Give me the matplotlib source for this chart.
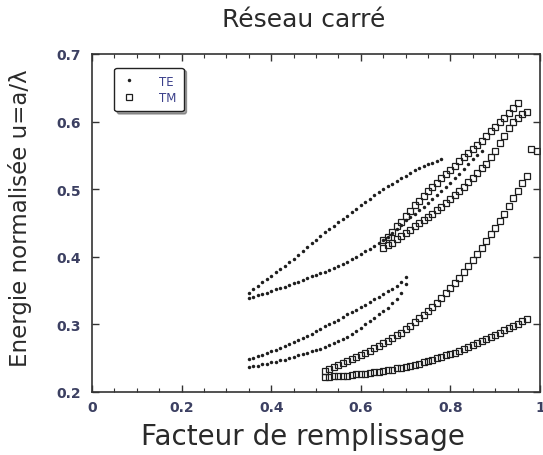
import numpy as np
import matplotlib.pyplot as plt
from matplotlib.ticker import MultipleLocator

# filling factor step used for every band (one point per 0.01)
step = 0.01

# TE bands (dots)
te1u_x0 = 0.35
te1u_y = [0.346, 0.352, 0.357, 0.362, 0.367, 0.372, 0.377, 0.382, 0.387, 0.392,
          0.397, 0.403, 0.409, 0.414, 0.420, 0.425, 0.431, 0.436, 0.441, 0.446,
          0.451, 0.456, 0.461, 0.466, 0.471, 0.476, 0.481, 0.486, 0.491, 0.496,
          0.500, 0.504, 0.508, 0.512, 0.516, 0.520, 0.524, 0.528, 0.531, 0.534,
          0.537, 0.539, 0.542, 0.544]
te1l_x0 = 0.35
te1l_y = [0.339, 0.341, 0.343, 0.345, 0.347, 0.350, 0.352, 0.354, 0.356, 0.359,
          0.361, 0.363, 0.366, 0.368, 0.371, 0.373, 0.376, 0.378, 0.381, 0.384,
          0.386, 0.390, 0.393, 0.397, 0.400, 0.404, 0.408, 0.412, 0.416, 0.420,
          0.425, 0.430, 0.435, 0.441, 0.447, 0.454, 0.459, 0.464, 0.469, 0.474,
          0.480, 0.485, 0.491, 0.497, 0.503, 0.509, 0.516, 0.523, 0.530, 0.537,
          0.544, 0.550, 0.556]
te2u_x0 = 0.35
te2u_y = [0.249, 0.251, 0.253, 0.255, 0.257, 0.260, 0.262, 0.265, 0.268, 0.271,
          0.274, 0.277, 0.280, 0.283, 0.286, 0.290, 0.293, 0.297, 0.300, 0.304,
          0.307, 0.311, 0.315, 0.318, 0.322, 0.326, 0.329, 0.333, 0.337, 0.341,
          0.345, 0.349, 0.353, 0.357, 0.362, 0.370]
te2l_x0 = 0.35
te2l_y = [0.237, 0.238, 0.239, 0.241, 0.242, 0.244, 0.245, 0.247, 0.248, 0.250,
          0.252, 0.254, 0.256, 0.258, 0.260, 0.262, 0.264, 0.267, 0.269, 0.272,
          0.275, 0.278, 0.282, 0.286, 0.290, 0.295, 0.300, 0.305, 0.310, 0.315,
          0.320, 0.325, 0.331, 0.338, 0.347, 0.360]

# TM bands (open squares)
tma_x0 = 0.65
tma_y = [0.425, 0.430, 0.437, 0.445, 0.452, 0.460, 0.468, 0.476, 0.483, 0.490,
         0.497, 0.503, 0.509, 0.516, 0.522, 0.529, 0.535, 0.541, 0.547, 0.553,
         0.559, 0.566, 0.572, 0.579, 0.586, 0.592, 0.599, 0.606, 0.613, 0.620,
         0.628]
tmb_x0 = 0.65
tmb_y = [0.413, 0.417, 0.421, 0.426, 0.431, 0.435, 0.440, 0.445, 0.450, 0.455,
         0.459, 0.464, 0.469, 0.474, 0.479, 0.485, 0.491, 0.497, 0.503, 0.510,
         0.517, 0.524, 0.531, 0.538, 0.547, 0.557, 0.568, 0.579, 0.590, 0.599,
         0.606, 0.611, 0.614]
tmc_x0 = 0.52
tmc_y = [0.231, 0.234, 0.237, 0.240, 0.243, 0.246, 0.249, 0.252, 0.255, 0.258,
         0.261, 0.265, 0.268, 0.272, 0.276, 0.280, 0.284, 0.288, 0.293, 0.298,
         0.303, 0.309, 0.314, 0.320, 0.326, 0.332, 0.339, 0.346, 0.354, 0.361,
         0.369, 0.377, 0.386, 0.395, 0.404, 0.413, 0.423, 0.433, 0.443, 0.453,
         0.464, 0.475, 0.487, 0.498, 0.509, 0.520]
tmd_x0 = 0.52
tmd_y = [0.222, 0.222, 0.223, 0.223, 0.224, 0.224, 0.225, 0.226, 0.226, 0.227,
         0.228, 0.229, 0.230, 0.231, 0.232, 0.233, 0.235, 0.236, 0.237, 0.239,
         0.240, 0.242, 0.244, 0.246, 0.248, 0.250, 0.252, 0.254, 0.256, 0.258,
         0.261, 0.263, 0.266, 0.269, 0.272, 0.275, 0.278, 0.281, 0.284, 0.287,
         0.291, 0.294, 0.298, 0.301, 0.305, 0.308]
tme_x = [0.98, 0.993]
tme_y = [0.559, 0.557]

xtick_vals = [0, 0.2, 0.4, 0.6, 0.8, 1.0]
xtick_labels = ['0', '0.2', '0.4', '0.6', '0.8', '1']
ytick_vals = [0.2, 0.3, 0.4, 0.5, 0.6, 0.7]
ytick_labels = ['0.2', '0.3', '0.4', '0.5', '0.6', '0.7']


def fgrid(x0, ys):
    return x0 + step * np.arange(len(ys))


fig = plt.figure(figsize=(5.43, 4.56), dpi=100)
ax = fig.add_axes([92 / 543, 1 - 393 / 456, 448 / 543, 338 / 456])

dark = '#1e1e1e'
te_kw = dict(ls='none', marker='o', ms=2.5, color=dark, mec='none')
tm_kw = dict(ls='none', marker='s', ms=4.2, mfc='none', mec=dark, mew=0.9)

ax.plot(fgrid(te1u_x0, te1u_y), te1u_y, label='TE', **te_kw)
ax.plot(fgrid(te1l_x0, te1l_y), te1l_y, **te_kw)
ax.plot(fgrid(te2u_x0, te2u_y), te2u_y, **te_kw)
ax.plot(fgrid(te2l_x0, te2l_y), te2l_y, **te_kw)

ax.plot(fgrid(tma_x0, tma_y), tma_y, label='TM', **tm_kw)
ax.plot(fgrid(tmb_x0, tmb_y), tmb_y, **tm_kw)
ax.plot(fgrid(tmc_x0, tmc_y), tmc_y, **tm_kw)
ax.plot(fgrid(tmd_x0, tmd_y), tmd_y, **tm_kw)
ax.plot(tme_x, tme_y, **tm_kw)

ax.set_xlim(0, 1)
ax.set_ylim(0.2, 0.7)
tick_col = '#3c4062'
ax.set_xticks(xtick_vals)
ax.set_xticklabels(xtick_labels)
ax.set_yticks(ytick_vals)
ax.set_yticklabels(ytick_labels)
ax.xaxis.set_minor_locator(MultipleLocator(0.05))
ax.tick_params(which='both', direction='in', top=True, right=True,
               colors='#333333', labelcolor=tick_col, labelsize=10)
ax.tick_params(which='major', length=5, width=1)
ax.tick_params(which='minor', length=3, width=0.8)
ax.tick_params(axis='x', pad=6)
ax.tick_params(axis='y', pad=8)
for lbl in ax.get_xticklabels() + ax.get_yticklabels():
    lbl.set_fontweight('semibold')
for sp in ax.spines.values():
    sp.set_linewidth(1.2)
    sp.set_color('#333333')

leg = ax.legend(loc='upper left', bbox_to_anchor=(0.05, 0.96), borderaxespad=0,
                fancybox=True, shadow=True, frameon=True, fontsize=8.5,
                handlelength=1.2, handletextpad=2.0, borderpad=0.6,
                labelspacing=0.3, markerscale=1.0)
leg.get_frame().set_edgecolor('#222222')
leg.get_frame().set_linewidth(1.0)
for t in leg.get_texts():
    t.set_color('#3a3f8a')

lab_col = '#2a2a2a'
fig.text(304 / 543, 1 - 20 / 456, 'Réseau carré', ha='center', va='center',
         fontsize=18, color=lab_col)
fig.text(303 / 543, 1 - 437 / 456, 'Facteur de remplissage', ha='center',
         va='center', fontsize=20, color=lab_col)
fig.text(20 / 543, 1 - 218 / 456, 'Energie normalisée u=a/λ', ha='center',
         va='center', rotation=90, fontsize=16.5, color=lab_col)

fig.savefig('out.png', dpi=100)
